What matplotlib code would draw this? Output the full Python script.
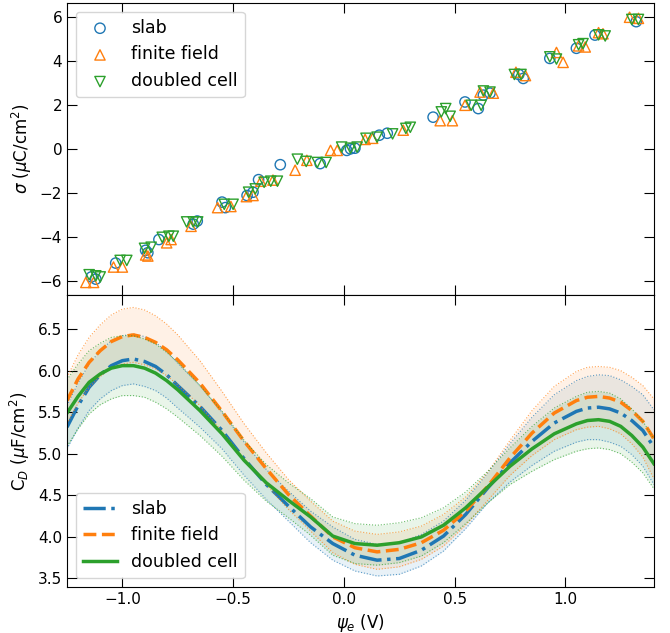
import numpy as np
import matplotlib
matplotlib.use('Agg')
import matplotlib.pyplot as plt

# top panel: surface charge vs potential
slab_psi = [-1.14, -1.12, -1.03, -0.895, -0.885, -0.835, -0.68, -0.662, -0.55, -0.535,
            -0.437, -0.41, -0.385, -0.287, -0.107, 0.013, 0.03, 0.05, 0.16, 0.196,
            0.403, 0.547, 0.607, 0.63, 0.66, 0.79, 0.81, 0.93, 1.05, 1.134, 1.32]
slab_sigma = [-5.8, -5.9, -5.17, -4.59, -4.7, -4.1, -3.4, -3.26, -2.4, -2.65,
              -2.1, -1.95, -1.38, -0.70, -0.65, -0.05, 0.02, 0.05, 0.64, 0.73,
              1.46, 2.15, 1.85, 2.46, 2.55, 3.4, 3.22, 4.13, 4.59, 5.19, 5.8]

ff_psi = [-1.165, -1.13, -1.04, -1.0, -0.895, -0.885, -0.80, -0.78, -0.69, -0.57,
          -0.51, -0.44, -0.41, -0.375, -0.32, -0.22, -0.167, -0.06, -0.03, 0.096,
          0.13, 0.268, 0.435, 0.49, 0.547, 0.615, 0.675, 0.777, 0.82, 0.96, 0.99,
          1.06, 1.09, 1.15, 1.17, 1.29, 1.33]
ff_sigma = [-6.05, -6.05, -5.35, -5.35, -4.8, -4.85, -4.25, -4.1, -3.5, -2.65,
            -2.6, -2.15, -2.1, -1.45, -1.4, -0.95, -0.5, -0.05, -0.05, 0.45,
            0.5, 0.87, 1.3, 1.3, 2.0, 2.6, 2.55, 3.5, 3.35, 4.4, 3.95,
            4.7, 4.65, 5.3, 5.25, 6.0, 5.95]

dc_psi = [-1.15, -1.12, -1.10, -1.01, -0.98, -0.90, -0.87, -0.82, -0.79, -0.77,
          -0.71, -0.68, -0.66, -0.54, -0.50, -0.43, -0.40, -0.36, -0.33, -0.30,
          -0.21, -0.17, -0.12, -0.08, -0.01, 0.03, 0.06, 0.10, 0.15, 0.22,
          0.28, 0.30, 0.44, 0.46, 0.48, 0.575, 0.62, 0.63, 0.66, 0.77, 0.80,
          0.93, 0.96, 1.06, 1.08, 1.15, 1.18, 1.30, 1.33]
dc_sigma = [-5.7, -5.75, -5.8, -5.05, -5.05, -4.5, -4.45, -4.0, -3.95, -3.95,
            -3.3, -3.3, -3.3, -2.5, -2.5, -1.95, -1.8, -1.5, -1.45, -1.45,
            -0.45, -0.55, -0.6, -0.6, 0.1, 0.05, 0.1, 0.5, 0.55, 0.7,
            0.95, 1.0, 1.7, 1.85, 1.5, 2.0, 2.0, 2.65, 2.6, 3.4, 3.4,
            4.2, 4.1, 4.75, 4.8, 5.2, 5.15, 5.9, 5.9]

# bottom panel: differential capacitance with error bands
psi = [-1.25, -1.20, -1.15, -1.10, -1.05, -1.00, -0.95, -0.90, -0.85, -0.80,
       -0.75, -0.65, -0.55, -0.45, -0.35, -0.25, -0.15, -0.05,
       0.05, 0.15, 0.25, 0.35, 0.45, 0.55, 0.65, 0.75, 0.85, 0.95,
       1.05, 1.10, 1.15, 1.20, 1.25, 1.30, 1.35, 1.40]
cd_slab = [5.32, 5.58, 5.80, 5.95, 6.06, 6.12, 6.14, 6.11, 6.05, 5.95,
           5.82, 5.57, 5.28, 4.94, 4.63, 4.37, 4.12, 3.92,
           3.78, 3.72, 3.74, 3.84, 4.01, 4.27, 4.59, 4.89, 5.15, 5.37,
           5.51, 5.55, 5.56, 5.54, 5.49, 5.40, 5.28, 5.08]
err_slab = [0.26, 0.27, 0.28, 0.29, 0.30, 0.30, 0.30, 0.30, 0.29, 0.28,
            0.27, 0.25, 0.22, 0.20, 0.18, 0.18, 0.19, 0.20,
            0.19, 0.19, 0.19, 0.19, 0.18, 0.17, 0.18, 0.23, 0.29, 0.34,
            0.37, 0.38, 0.39, 0.40, 0.40, 0.41, 0.43, 0.45]
cd_ff = [5.64, 5.90, 6.10, 6.24, 6.35, 6.41, 6.43, 6.40, 6.34, 6.25,
         6.13, 5.85, 5.51, 5.15, 4.82, 4.51, 4.25, 4.00,
         3.87, 3.82, 3.85, 3.93, 4.08, 4.31, 4.61, 4.95, 5.25, 5.49,
         5.64, 5.68, 5.69, 5.67, 5.62, 5.52, 5.39, 5.18]
err_ff = [0.28, 0.29, 0.30, 0.31, 0.32, 0.33, 0.33, 0.33, 0.32, 0.31,
          0.30, 0.27, 0.24, 0.21, 0.19, 0.18, 0.18, 0.19,
          0.20, 0.21, 0.21, 0.20, 0.19, 0.17, 0.17, 0.21, 0.27, 0.32,
          0.35, 0.36, 0.36, 0.37, 0.38, 0.40, 0.43, 0.48]
cd_dc = [5.49, 5.69, 5.86, 5.96, 6.03, 6.06, 6.06, 6.03, 5.97, 5.88,
         5.77, 5.52, 5.24, 4.92, 4.65, 4.44, 4.24, 4.01,
         3.92, 3.90, 3.93, 4.00, 4.14, 4.35, 4.60, 4.85, 5.06, 5.24,
         5.36, 5.40, 5.41, 5.39, 5.33, 5.22, 5.08, 4.88]
err_dc = [0.40, 0.39, 0.38, 0.37, 0.37, 0.36, 0.36, 0.35, 0.35, 0.34,
          0.33, 0.30, 0.27, 0.24, 0.22, 0.21, 0.22, 0.23,
          0.24, 0.24, 0.24, 0.23, 0.21, 0.19, 0.19, 0.22, 0.27, 0.31,
          0.33, 0.34, 0.34, 0.34, 0.33, 0.32, 0.31, 0.30]

labels = ["slab", "finite field", "doubled cell"]
colors = ["tab:blue", "tab:orange", "tab:green"]

fig, (ax1, ax2) = plt.subplots(2, 1, sharex=True, figsize=(6.7, 6.33), dpi=100)
fig.subplots_adjust(left=0.1, right=0.976, top=0.995, bottom=0.073, hspace=0)

# scatter, open markers
ax1.scatter(slab_psi, slab_sigma, s=55, marker="o", facecolors="none", edgecolors=colors[0], linewidths=1, label=labels[0])
ax1.scatter(ff_psi, ff_sigma, s=55, marker="^", facecolors="none", edgecolors=colors[1], linewidths=1, label=labels[1])
ax1.scatter(dc_psi, dc_sigma, s=55, marker="v", facecolors="none", edgecolors=colors[2], linewidths=1, label=labels[2])
ax1.set_ylim(-6.62, 6.64)
ax1.set_yticks([-6, -4, -2, 0, 2, 4, 6])
ax1.set_ylabel(r"$\sigma$ ($\mu$C/cm$^2$)", fontsize=12)
ax1.legend(loc="upper left", fontsize=12.5)

# capacitance curves with bands
psi_a = np.array(psi)
styles = ["-.", "--", "-"]
curves = [(cd_slab, err_slab), (cd_ff, err_ff), (cd_dc, err_dc)]
for (c, e), col, ls, lab in zip(curves, colors, styles, labels):
    c = np.array(c)
    e = np.array(e)
    ax2.fill_between(psi_a, c - e, c + e, color=col, alpha=0.1, linewidth=0)
    ax2.plot(psi_a, c + e, ":", color=col, lw=0.8, alpha=0.7)
    ax2.plot(psi_a, c - e, ":", color=col, lw=0.8, alpha=0.7)
    ax2.plot(psi_a, c, ls, color=col, lw=2.5, label=lab)

ax2.set_xlim(-1.25, 1.40)
ax2.set_ylim(3.40, 6.91)
ax2.set_xticks([-1.0, -0.5, 0.0, 0.5, 1.0])
ax2.set_yticks([3.5, 4.0, 4.5, 5.0, 5.5, 6.0, 6.5])
ax2.set_ylabel(r"C$_D$ ($\mu$F/cm$^2$)", fontsize=12)
ax2.set_xlabel(r"$\psi_e$ (V)", fontsize=12)
ax2.legend(loc="lower left", fontsize=12.5)

for ax in (ax1, ax2):
    ax.tick_params(direction="in", top=True, right=True, length=7, labelsize=11)

plt.savefig("out.png", dpi=100)
